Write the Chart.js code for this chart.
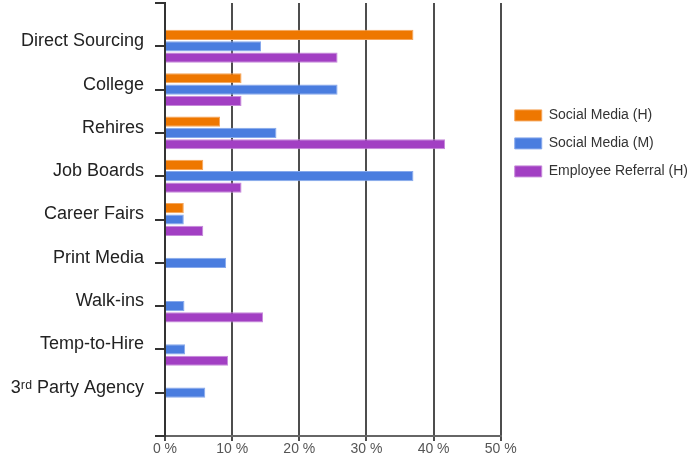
<!DOCTYPE html>
<html>
<head>
<meta charset="utf-8">
<script src="https://cdn.jsdelivr.net/npm/chart.js@4.4.0/dist/chart.umd.min.js"></script>
<style>
    html, body { margin: 0; padding: 0; background: #fff; }
    #wrap { width: 698px; height: 456px; }
</style>
</head>
<body>
<div id="wrap"><canvas id="grafico"></canvas></div>
<script>
// sources of hire, top to bottom
const categories = ['Direct Sourcing', 'College', 'Rehires', 'Job Boards', 'Career Fairs', 'Print Media', 'Walk-ins', 'Temp-to-Hire', '3ʳᵈ Party Agency'];

// percent of hires per source (null = no bar)
const socialMediaH = [37.0, 11.4, 8.2, 5.7, 2.8, null, null, null, null];
const socialMediaM = [14.3, 25.7, 16.6, 37.0, 2.8, 9.1, 2.9, 3.0, 6.0];
const employeeReferralH = [25.7, 11.4, 41.7, 11.4, 5.7, null, 14.6, 9.4, null];

const seriesNames = ['Social Media (H)', 'Social Media (M)', 'Employee Referral (H)'];
const xTickStep = 10;
const xMax = 50;

Chart.defaults.font.family = "'Liberation Sans', Arial, sans-serif";

// blank slot above and below so the categories sit one step in from the edges
const padRow = (arr) => [null, ...arr, null];
const labels = ['', ...categories, ''];

const data = {
    labels: labels,
    datasets: [
        {
            label: seriesNames[0],
            data: padRow(socialMediaH),
            backgroundColor: '#ee7700',
            borderColor: '#f5a55a',
            borderWidth: 1
        },
        {
            label: seriesNames[1],
            data: padRow(socialMediaM),
            backgroundColor: '#4a7ddf',
            borderColor: '#87a9ec',
            borderWidth: 1
        },
        {
            label: seriesNames[2],
            data: padRow(employeeReferralH),
            backgroundColor: '#a23fc3',
            borderColor: '#c68ada',
            borderWidth: 1
        }
    ]
};

const ctx = document.getElementById('grafico').getContext('2d');

const myChart = new Chart(ctx, {
    type: 'bar',
    data: data,
    options: {
        indexAxis: 'y',
        responsive: true,
        maintainAspectRatio: false,
        animation: false,
        categoryPercentage: 0.785,
        barPercentage: 0.9,
        layout: {
            padding: { top: 3, left: 0, right: 0, bottom: 0 }
        },
        scales: {
            x: {
                type: 'linear',
                min: 0,
                max: xMax,
                afterFit: function(scale) {
                    scale.height = 20; // axis line sits at y=436 like the original
                },
                ticks: {
                    stepSize: xTickStep,
                    color: '#555',
                    padding: 0,
                    font: { size: 14 },
                    callback: function(value) {
                        return value + ' %';
                    }
                },
                grid: {
                    color: '#4d4d4d',
                    lineWidth: 2,
                    tickLength: 5
                },
                border: { color: '#666', width: 2 }
            },
            y: {
                type: 'category',
                offset: false,
                afterFit: function(scale) {
                    scale.width = 165; // keep the plot starting where the original does
                    scale.paddingTop = 0;
                    scale.paddingBottom = 0;
                },
                ticks: {
                    color: '#222',
                    autoSkip: false,
                    padding: 11,
                    labelOffset: -5,
                    font: { size: 18 }
                },
                grid: {
                    offset: false,
                    drawOnChartArea: false,
                    color: '#333',
                    lineWidth: 2,
                    tickLength: 10
                },
                border: { color: '#333', width: 2 }
            }
        },
        plugins: {
            tooltip: { enabled: false },
            legend: {
                position: 'right',
                align: 'start',
                maxWidth: 210,
                title: {
                    display: true,
                    text: '',
                    padding: { top: 77, bottom: 0 }
                },
                labels: {
                    boxWidth: 27,
                    boxHeight: 11,
                    padding: 14,
                    color: '#333',
                    font: { size: 14 }
                }
            }
        }
    }
});
</script>
</body>
</html>
